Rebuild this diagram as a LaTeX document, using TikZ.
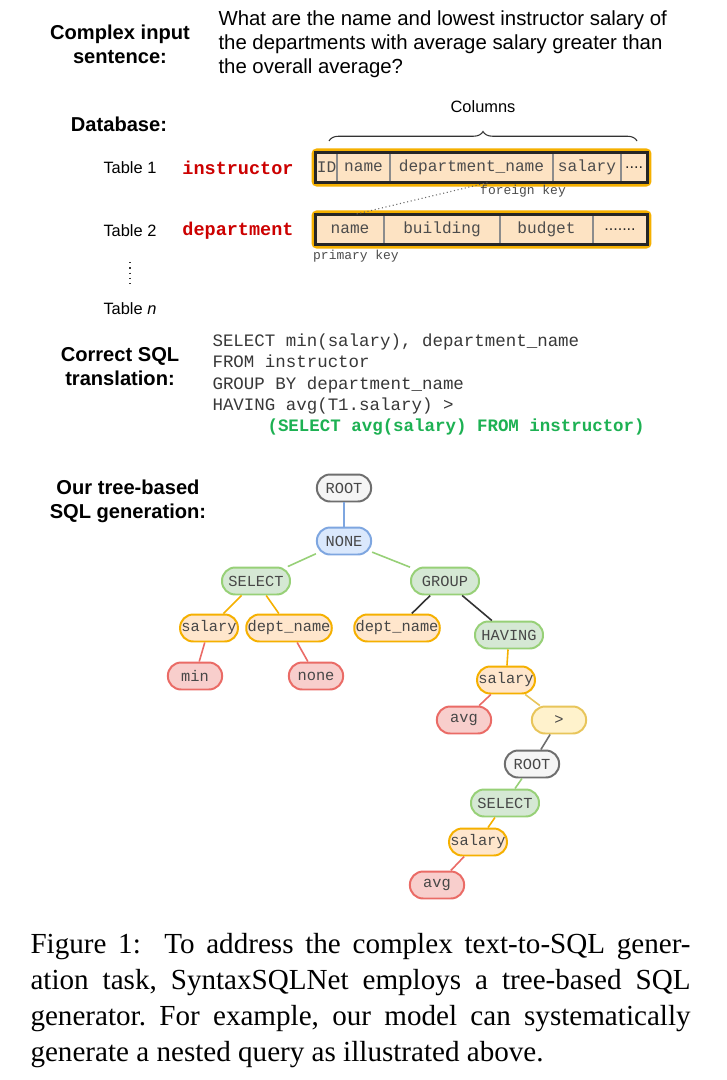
\documentclass[tikz,border=0pt]{standalone}
\usepackage{fontspec}
\setmainfont{Liberation Serif}
\setsansfont{Liberation Sans}
\setmonofont{Liberation Mono}
\usetikzlibrary{positioning, decorations.pathreplacing}

\definecolor{peach}{HTML}{FDE3C3}
\definecolor{amber}{HTML}{F5B000}
\definecolor{sqlred}{HTML}{CC0000}
\definecolor{sqlgreen}{HTML}{1DB153}
\definecolor{gyfill}{HTML}{F5F5F5}
\definecolor{gyline}{HTML}{6E6E6E}
\definecolor{blfill}{HTML}{DAE8FC}
\definecolor{blline}{HTML}{7EA6E0}
\definecolor{gnfill}{HTML}{D5E8D4}
\definecolor{gnline}{HTML}{97D077}
\definecolor{ogfill}{HTML}{FFE6CC}
\definecolor{ogline}{HTML}{F5B000}
\definecolor{rdfill}{HTML}{F8CECC}
\definecolor{rdline}{HTML}{EA6B66}
\definecolor{ylfill}{HTML}{FFF2CC}
\definecolor{ylline}{HTML}{E8C55A}

\begin{document}
\frenchspacing
\begin{tikzpicture}[x=0.378pt, y=-0.378pt,
  lbl/.style={font=\sffamily\bfseries\fontsize{7.6}{9.07}\selectfont, align=center, inner sep=0},
  tbl/.style={font=\sffamily\fontsize{6.2}{7}\selectfont, inner sep=0, anchor=west},
  tname/.style={font=\ttfamily\bfseries\fontsize{7}{8}\selectfont, text=sqlred, inner sep=0},
  cell/.style={draw=gray!90, line width=0.5pt, fill=peach, minimum height=11pt, inner sep=0,
    font=\ttfamily\fontsize{6.1}{7}\selectfont, text=black!70},
  dots/.style={cell, font=\sffamily\fontsize{6.1}{7}\selectfont, text=black!85},
  glow/.style={amber, line width=0.9pt, rounded corners=1.5pt},
  frame/.style={black!85, line width=1.1pt},
  keylbl/.style={font=\ttfamily\fontsize{4.9}{6}\selectfont, text=black!70, inner sep=0},
  tn/.style={rounded corners=5pt, minimum height=10.2pt, minimum width=20.5pt, inner xsep=0.5pt,
    inner ysep=0, line width=0.75pt, font=\ttfamily\fontsize{5.8}{6}\selectfont, text=black!72},
  wide/.style={minimum width=25.7pt},
  gy/.style={tn, draw=gyline, fill=gyfill},
  bl/.style={tn, draw=blline, fill=blfill},
  gn/.style={tn, draw=gnline, fill=gnfill, wide},
  og/.style={tn, draw=ogline, fill=ogfill},
  rd/.style={tn, draw=rdline, fill=rdfill},
  yl/.style={tn, draw=ylline, fill=ylfill},
  ed/.style={line width=0.6pt}
]
\useasboundingbox[fill=white] (0,0) rectangle (726,1080);

% input sentence
\node[lbl] (inlbl) at (120,44) {Complex input\\sentence:};
\node[anchor=west, align=left, inner sep=0, font=\sffamily\fontsize{7.7}{9.07}\selectfont] (q) at (218,44)
  {What are the name and lowest instructor salary of\\the departments with average salary greater than\\the overall average?};

% database
\node[lbl] (dblbl) at (119,124) {Database:};
\node[font=\sffamily\fontsize{6.2}{7}\selectfont, inner sep=0] (cols) at (483,107) {Columns};
\coordinate (bl) at (329,141);
\coordinate (br) at (637,141);
\draw[line width=0.4pt, black!80, decorate, decoration={brace, amplitude=3.6pt}] (bl) -- (br);

% table 1 instructor
\node[tbl] (t1) at (103,168) {Table 1};
\node[tname] (t1n) at (238,168) {instructor};
\node[cell, minimum width=7.9pt] (t1id) at (326.5,167.5) {ID};
\node[cell, minimum width=20pt] (t1nm) at (363.5,167.5) {name};
\node[cell, minimum width=61.6pt] (t1dn) at (471.5,167.5) {department\_name};
\node[cell, minimum width=25.7pt] (t1sal) at (587,167.5) {salary};
\node[dots, minimum width=9.8pt] (t1dots) at (634,167.5) {....};
\draw[glow] ([shift={(-1pt,1pt)}]t1id.north west) rectangle ([shift={(1pt,-1pt)}]t1dots.south east);
\draw[frame] (t1id.north west) rectangle (t1dots.south east);
\node[keylbl] (fk) at (523,191) {foreign key};

% table 2 department
\node[tbl] (t2) at (103,231) {Table 2};
\node[tname] (t2n) at (238,231) {department};
\node[cell, minimum width=25.7pt] (t2nm) at (350,229.5) {name};
\node[cell, minimum width=43.8pt] (t2bd) at (442,229.5) {building};
\node[cell, minimum width=35.2pt] (t2bu) at (546.5,229.5) {budget};
\node[dots, minimum width=20.4pt] (t2dots) at (620,229.5) {.......};
\draw[glow] ([shift={(-1pt,1pt)}]t2nm.north west) rectangle ([shift={(1pt,-1pt)}]t2dots.south east);
\draw[frame] (t2nm.north west) rectangle (t2dots.south east);
\node[keylbl] (pk) at (356,256) {primary key};
\draw[black!60, line width=0.4pt, densely dotted] ([xshift=6pt]t1dn.south) -- ([xshift=2pt]t2nm.north);

% table n
\coordinate (d1) at (130,262);
\coordinate (d2) at (130,288);
\draw[black!80, line width=0.8pt, dash pattern=on 0.5pt off 1.5pt] (d1) -- (d2);
\node[tbl] (tn) at (103,309) {Table \textit{n}};

% sql
\node[lbl] (sqllbl) at (120,367) {Correct SQL\\translation:};
\node[anchor=west, align=left, inner sep=0, text=black!78, font=\ttfamily\fontsize{6.6}{8.13}\selectfont] (sql) at (212,374)
  {SELECT min(salary), department\_name\\FROM instructor\\GROUP BY department\_name\\HAVING avg(T1.salary) >};
\node[anchor=west, inner sep=0, text=sqlgreen, font=\ttfamily\bfseries\fontsize{6.6}{8.13}\selectfont] (sub) at (267,427)
  {(SELECT avg(salary) FROM instructor)};

% tree
\node[lbl] (treelbl) at (128,501) {Our tree-based\\SQL generation:};
\node[gy] (root) at (344,488) {ROOT};
\node[bl] (none) at (344,541) {NONE};
\node[gn] (sel) at (256,581) {SELECT};
\node[gn] (grp) at (445,581) {GROUP};
\node[og] (sal) at (209,628) {salary};
\node[og, minimum width=30.6pt] (dn1) at (289,628) {dept\_name};
\node[og, minimum width=30.6pt] (dn2) at (397,628) {dept\_name};
\node[gn] (hav) at (509,635) {HAVING};
\node[rd] (min) at (195,676) {min};
\node[rd] (nn) at (316,676) {none};
\node[og] (sal2) at (506,680) {salary};
\node[rd] (avg) at (464,720) {avg};
\node[yl] (gt) at (559,720) {>};
\node[gy] (root2) at (532,764) {ROOT};
\node[gn] (sel2) at (505,803) {SELECT};
\node[og] (sal3) at (478,842) {salary};
\node[rd] (avg2) at (437,885) {avg};

\draw[ed, blline] (root) -- (none);
\draw[ed, gnline] (none) -- (sel);
\draw[ed, gnline] (none) -- (grp);
\draw[ed, ogline] (sel) -- (sal);
\draw[ed, ogline] (sel) -- (dn1);
\draw[ed, black!80] (grp) -- (dn2);
\draw[ed, black!80] (grp) -- (hav);
\draw[ed, rdline] (sal) -- (min);
\draw[ed, rdline] (dn1) -- (nn);
\draw[ed, ogline] (hav) -- (sal2);
\draw[ed, rdline] (sal2) -- (avg);
\draw[ed, ylline] (sal2) -- (gt);
\draw[ed, gyline] (gt) -- (root2);
\draw[ed, gnline] (root2) -- (sel2);
\draw[ed, ogline] (sel2) -- (sal3);
\draw[ed, rdline] (sal3) -- (avg2);

% caption
\node[anchor=north west, inner sep=0, text width=249.5pt, align=justify, font=\fontsize{11}{13.6}\selectfont] (cap) at (30,933)
  {Figure 1:\ \ To address the complex text-to-SQL gener-\linebreak ation task, SyntaxSQLNet employs a tree-based SQL\linebreak generator. For example, our model can systematically\linebreak generate a nested query as illustrated above.};
\end{tikzpicture}
\end{document}
